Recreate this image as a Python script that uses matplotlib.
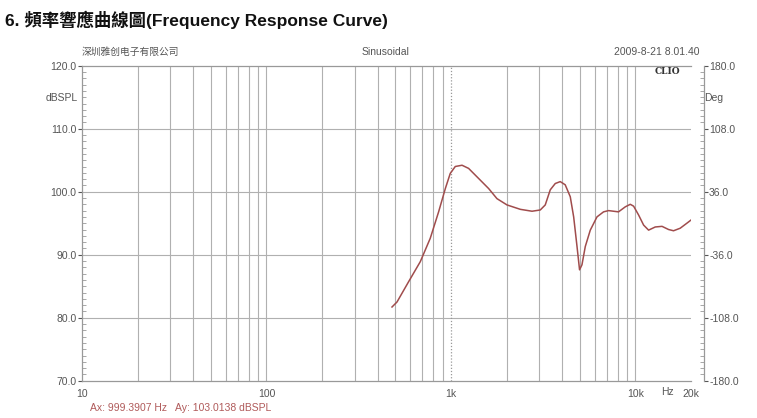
import matplotlib
matplotlib.use("Agg")
import matplotlib.pyplot as plt
from matplotlib.ticker import FixedLocator, MultipleLocator, NullFormatter

# ---- data ----
freq_hz = [479, 510, 589, 682, 772, 857, 932, 991, 1055, 1148, 1246, 1412, 1600,
           1775, 2012, 2377, 2750, 3048, 3243, 3453, 3675, 3910, 4160, 4432, 4624,
           4822, 4977, 5129, 5346, 5690, 6185, 6714, 7145, 8091, 8810, 9374, 9772,
           10400, 11070, 11780, 12800, 13930, 15110, 16080, 17470, 19000, 20000]
spl_db = [81.7, 82.5, 85.7, 88.9, 92.6, 96.8, 100.5, 102.9, 104.0, 104.2, 103.7, 102.1, 100.5,
          98.9, 97.9, 97.2, 96.9, 97.1, 97.9, 100.3, 101.3, 101.6, 101.1, 99.2, 96.0,
          91.3, 87.6, 88.4, 91.3, 93.9, 96.0, 96.8, 97.0, 96.8, 97.6, 98.0, 97.7,
          96.3, 94.7, 93.9, 94.4, 94.5, 94.0, 93.8, 94.2, 95.0, 95.5]
x_ticks = [10, 100, 1000, 10000, 20000]
x_tick_labels = ["10", "100", "1k", "10k", "20k"]
y_ticks = [70, 80, 90, 100, 110, 120]
y_tick_labels = ["70.0", "80.0", "90.0", "100.0", "110.0", "120.0"]
deg_ticks = [-180, -108, -36, 36, 108, 180]
deg_tick_labels = ["-180.0", "-108.0", "-36.0", "36.0", "108.0", "180.0"]
grid_freqs = [20, 30, 40, 50, 60, 70, 80, 90, 100, 200, 300, 400, 500, 600, 700, 800, 900,
              2000, 3000, 4000, 5000, 6000, 7000, 8000, 9000, 10000]
cursor_hz = 999.3907
cursor_db = 103.0138

txt_col = "#555555"
grid_col = "#b0b0b0"
sans = ["Liberation Sans", "Noto Sans CJK SC", "DejaVu Sans"]
plt.rcParams['font.family'] = sans

fig = plt.figure(figsize=(7.57, 4.18), dpi=100)
ax = fig.add_axes([82/757, 1-380.7/418, (691-82)/757, (380.7-65.7)/418])

ax.set_xscale("log")
ax.set_xlim(10, 20000)
ax.set_ylim(70, 120)

for f in grid_freqs:
    ax.axvline(f, color=grid_col, lw=0.8, zorder=1)
for yv in y_ticks[1:-1]:
    ax.axhline(yv, color=grid_col, lw=0.8, zorder=1)
ax.axvline(cursor_hz, color="#999999", lw=0.9, ls=(0, (1, 1.5)), zorder=1)

ax.plot(freq_hz, spl_db, color="#a04c4c", lw=1.1, zorder=3, solid_joinstyle="round")

ax.xaxis.set_major_locator(FixedLocator(x_ticks))
ax.set_xticklabels(x_tick_labels)
ax.xaxis.set_minor_locator(FixedLocator([]))
ax.xaxis.set_minor_formatter(NullFormatter())
ax.set_yticks(y_ticks)
ax.set_yticklabels(y_tick_labels)
ax.yaxis.set_minor_locator(MultipleLocator(1))
ax.tick_params(axis="x", which="both", length=0, labelsize=7.5, colors=txt_col, pad=6)
ax.tick_params(axis="y", which="major", length=3, direction="out", labelsize=7.5, colors=txt_col, pad=1)
ax.tick_params(axis="y", which="minor", length=3, direction="in", color="#999999")
for s in ax.spines.values():
    s.set_color("#999999")
    s.set_linewidth(0.9)
ax.spines["right"].set_visible(False)

ax2 = ax.twinx()
ax2.set_ylim(-180, 180)
ax2.set_yticks(deg_ticks)
ax2.set_yticklabels(deg_tick_labels)
ax2.yaxis.set_minor_locator(MultipleLocator(7.2))
ax2.spines["right"].set_position(("outward", 9))
ax2.spines["right"].set_color("#999999")
ax2.spines["right"].set_linewidth(0.9)
for k in ["left", "top", "bottom"]:
    ax2.spines[k].set_visible(False)
ax2.tick_params(axis="y", which="major", length=3, direction="out", labelsize=7.5, colors=txt_col, pad=1)
ax2.tick_params(axis="y", which="minor", length=3, direction="in", color="#999999")

# unit labels
fig.text(78/757, 1-98/418, "dBSPL", ha="right", va="center", fontsize=7.5, color=txt_col)
fig.text(704/757, 1-98/418, "Deg", ha="left", va="center", fontsize=7.5, color=txt_col)
fig.text(667/757, 1-392/418, "Hz", ha="center", va="center", fontsize=7.5, color=txt_col)
fig.text(680/757, 1-72/418, "CLIO", ha="right", va="center", fontsize=6.5, color="#333333",
         family="DejaVu Serif", fontweight="bold")

# header texts
fig.text(5/757, 1-20/418, "6. 頻率響應曲線圖(Frequency Response Curve)", ha="left", va="center",
         fontsize=12.5, fontweight="bold", color="#111111",
         family=["Liberation Sans", "Noto Sans CJK TC", "DejaVu Sans"])
fig.text(82/757, 1-52/418, "深圳雅创电子有限公司", ha="left", va="center", fontsize=7,
         color=txt_col, family=["Noto Sans CJK SC", "DejaVu Sans"])
fig.text(386/757, 1-52/418, "Sinusoidal", ha="center", va="center", fontsize=7.5, color=txt_col)
fig.text(700/757, 1-52/418, "2009-8-21 8.01.40", ha="right", va="center", fontsize=7.5, color=txt_col)
fig.text(90/757, 1-408/418, f"Ax: {cursor_hz:.4f} Hz   Ay: {cursor_db:.4f} dBSPL", ha="left",
         va="center", fontsize=7.5, color="#b05a5a")

fig.savefig("out.png", dpi=100, facecolor="white")
